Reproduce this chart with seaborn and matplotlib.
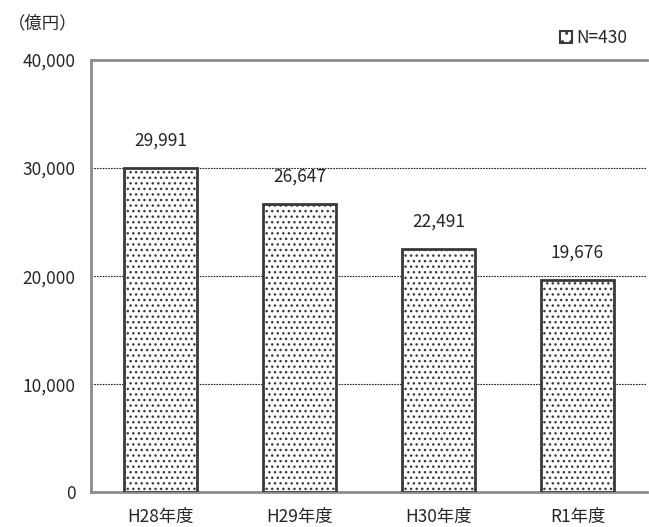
import matplotlib
matplotlib.use("Agg")
import matplotlib.pyplot as plt
import matplotlib.patches as mpatches
import seaborn as sns
import pandas as pd

# data
years = ["H28年度", "H29年度", "H30年度", "R1年度"]
amounts = [29991, 26647, 22491, 19676]
y_ticks = [0, 10000, 20000, 30000, 40000]

df = pd.DataFrame({"year": years, "amount": amounts})

sns.set_style("white")
plt.rcParams["font.family"] = ["Noto Sans CJK JP", "DejaVu Sans"]
plt.rcParams["hatch.linewidth"] = 1.0

fig = plt.figure(figsize=(6.49, 5.27), dpi=100)
ax = fig.add_axes([0.140, 0.066, 0.857, 0.820])

sns.barplot(data=df, x="year", y="amount", ax=ax, color="white",
            edgecolor="#3a3a3a", linewidth=2, width=0.52, hatch="...",
            zorder=3)

fs = 12.5
ax.set_ylim(0, 40000)
ax.set_xlim(-0.5, len(years) - 0.5)
ax.set_yticks(y_ticks)
ax.set_yticklabels([f"{v:,}" for v in y_ticks], fontsize=fs)
ax.tick_params(axis="x", length=0, labelsize=fs, pad=11)
ax.tick_params(axis="y", length=0, pad=11)
ax.set_xticks([i + 0.5 for i in range(len(years) - 1)], minor=True)
ax.tick_params(axis="x", which="minor", direction="in", length=5,
               color="#999999", width=1)
ax.set_xlabel("")
ax.set_ylabel("")

for v in y_ticks[1:-1]:
    ax.axhline(v, color="#222222", linewidth=0.8, linestyle=(0, (1.5, 1)),
               zorder=1)

for sp in ["left", "bottom", "top"]:
    ax.spines[sp].set_color("#8c8c8c")
    ax.spines[sp].set_linewidth(2)
ax.spines["right"].set_visible(False)

for i, v in enumerate(amounts):
    ax.text(i, v + 1700, f"{v:,}", ha="center", va="bottom", fontsize=fs)

fig.text(0.012, 0.955, "（億円）", fontsize=fs, va="center", ha="left")

handle = mpatches.Patch(facecolor="white", edgecolor="#3a3a3a",
                        linewidth=1.5, hatch="..", label="N=430")
fig.legend(handles=[handle], loc="center right",
           bbox_to_anchor=(0.99, 0.928), frameon=False, fontsize=fs,
           handlelength=0.7, handleheight=0.7, handletextpad=0.2)

fig.savefig("out.png", dpi=100)
